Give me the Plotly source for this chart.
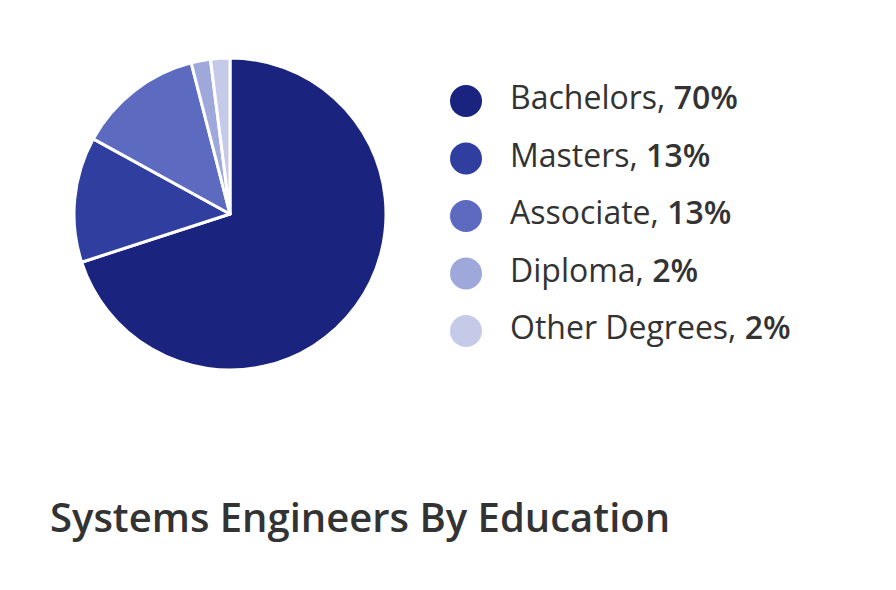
import plotly.graph_objects as go

# Data
degrees = ['Bachelors', 'Masters', 'Associate', 'Diploma', 'Other Degrees']
shares = [70, 13, 13, 2, 2]
colors = ['#1a237e', '#303f9f', '#5c6bc0', '#9fa8da', '#c5cae9']

W, H = 896, 590
off = 8  # page body margin
font = 'Open Sans'

fig = go.Figure()

# Pie
fig.add_trace(go.Pie(
    labels=degrees,
    values=shares,
    marker=dict(colors=colors, line=dict(color='white', width=3)),
    sort=False,
    direction='clockwise',
    rotation=0,
    textinfo='none',
    hoverinfo='label+percent',
    domain=dict(x=[(74 - off) / W, (386 - off) / W],
                y=[1 - (370 - off) / H, 1 - (58 - off) / H]),
    showlegend=False,
))

# Custom legend with round markers
rows = list(range(len(degrees)))
legend_text = [f"{d}, <span style='font-weight:600'>{s}%</span>"
               for d, s in zip(degrees, shares)]

fig.add_trace(go.Scatter(
    x=[466 - off] * len(rows), y=rows,
    mode='markers',
    marker=dict(size=32, color=colors),
    hoverinfo='skip',
    showlegend=False,
))
fig.add_trace(go.Scatter(
    x=[510 - off] * len(rows), y=rows,
    mode='text',
    text=legend_text,
    textposition='middle right',
    textfont=dict(family=font, size=32, color='#333333'),
    hoverinfo='skip',
    showlegend=False,
))

step = 57.5
r0 = -(101 - off) / step
r1 = r0 + H / step

fig.update_layout(
    width=W, height=H,
    margin=dict(l=0, r=0, t=0, b=0),
    paper_bgcolor='white',
    plot_bgcolor='white',
    font=dict(family=font, color='#333333'),
    xaxis=dict(range=[0, W], visible=False, domain=[0, 1], fixedrange=True),
    yaxis=dict(range=[r1, r0], visible=False, domain=[0, 1], fixedrange=True),
    title=dict(
        text='Systems Engineers By Education',
        x=(50 - off) / W, xanchor='left',
        y=1 - (518 - off) / H, yanchor='middle',
        font=dict(family=font, size=40, color='#333333', weight=600),
    ),
)

fig.write_html('out.html')
